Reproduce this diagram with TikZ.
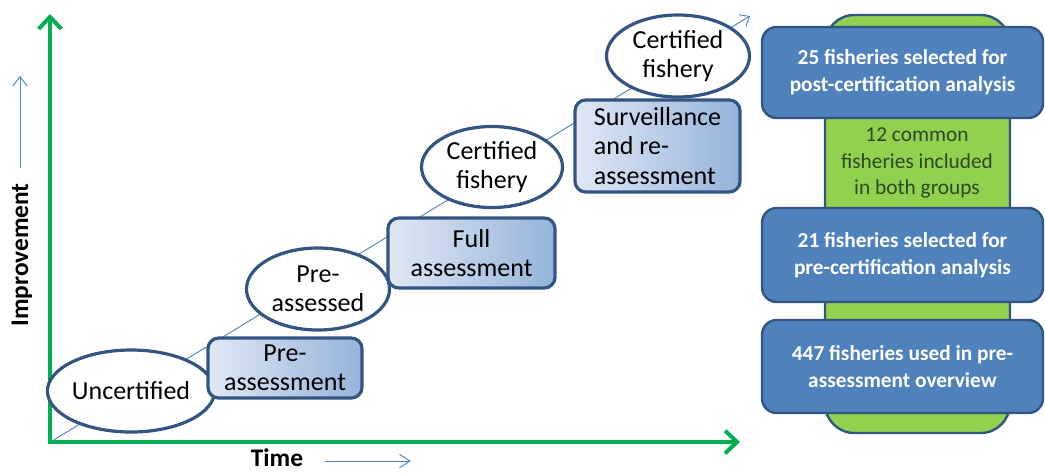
\documentclass[tikz,border=0pt]{standalone}
\usepackage{fontspec}
\setmainfont{Carlito}
\usetikzlibrary{shapes.geometric,arrows.meta}
\definecolor{axgreen}{RGB}{0,176,80}
\definecolor{lineblue}{RGB}{79,129,189}
\definecolor{edgeblue}{RGB}{50,85,130}
\definecolor{boxL}{RGB}{224,232,245}
\definecolor{boxR}{RGB}{149,179,218}
\definecolor{panelgreen}{RGB}{146,208,80}
\definecolor{fillblue}{RGB}{79,129,189}
\definecolor{textgreen}{RGB}{45,72,32}
\begin{document}
\begin{tikzpicture}[x=0.75pt,y=-0.75pt,
  stage/.style={ellipse, draw=edgeblue, line width=2.4pt, fill=white, inner sep=0pt,
    font=\fontsize{19.5}{22}\selectfont, align=center},
  stepbox/.style={rounded corners=8pt, draw=edgeblue, line width=2.4pt,
    left color=boxL, right color=boxR, inner sep=0pt,
    font=\fontsize{19.5}{22}\selectfont},
  infobox/.style={rounded corners=11pt, draw=edgeblue, line width=1.8pt, fill=fillblue,
    inner sep=0pt, text=white, font=\bfseries\fontsize{16}{20}\selectfont, align=center,
    minimum width={281*0.75pt}},
  panel/.style={rounded corners=22pt, draw=edgeblue, line width=1.8pt, fill=panelgreen},
  axis/.style={draw=axgreen, line width=3pt},
  thin/.style={draw=lineblue, line width=0.7pt},
  label/.style={font=\bfseries\fontsize{19}{22}\selectfont}
]
\useasboundingbox (0,0) rectangle (1045,472);

% axes
\coordinate (O) at (50,442);
\coordinate (Ytop) at (50,14);
\coordinate (Xend) at (740,442);
\draw[axis, {Straight Barb[length=9pt,width=17pt]}-{Straight Barb[length=9pt,width=17pt]}]
  (Ytop) -- (O) -- (Xend);

% diagonal progress line
\coordinate (D0) at (52,441);
\coordinate (D1) at (750,16);
\draw[thin, -{Straight Barb[length=6pt,width=10pt]}] (D0) -- (D1);

% axis labels
\node[label, rotate=90] (imp) at (22,255) {Improvement};
\coordinate (ia) at (20,168);
\coordinate (ib) at (20,76);
\draw[thin, -{Straight Barb[length=7pt,width=11pt]}] (ia) -- (ib);
\node[label, inner sep=1pt] (time) at (277,458) {Time};
\coordinate (ta) at (325,461);
\coordinate (tb) at (411,461);
\draw[thin, -{Straight Barb[length=8pt,width=10pt]}] (ta) -- (tb);

% stages
\node[stage, minimum width={143*0.75pt}, minimum height={82*0.75pt}] (unc) at (131,391) {Uncertified};
\node[stage, minimum width={143*0.75pt}, minimum height={82*0.75pt}] (pre) at (318,289) {Pre-\\assessed};
\node[stage, minimum width={141*0.75pt}, minimum height={81*0.75pt}] (cert1) at (492,167) {Certified\\fishery};
\node[stage, minimum width={143*0.75pt}, minimum height={82*0.75pt}] (cert2) at (678,56) {Certified\\fishery};

\node[stepbox, align=center, minimum width={154*0.75pt}, minimum height={60*0.75pt}] (pa) at (285,368) {Pre-\\assessment};
\node[stepbox, align=center, minimum width={167*0.75pt}, minimum height={70*0.75pt}] (fa) at (471.5,253) {Full\\assessment};
\node[stepbox, align=left, minimum width={165*0.75pt}, minimum height={92*0.75pt}] (sr) at (657.5,146) {Surveillance\\and re-\\assessment};

% right panel
\node[panel, minimum width={185*0.75pt}, minimum height={418*0.75pt}] (bg) at (917.5,224) {};
\node[font=\fontsize{16}{20}\selectfont, text=textgreen, align=center] (common) at (917,163)
  {12 common\\fisheries included\\in both groups};
\node[infobox, minimum height={91*0.75pt}] (b1) at (902.5,72.5)
  {25 fisheries selected for\\post-certification analysis};
\node[infobox, minimum height={94*0.75pt}] (b2) at (902.5,255)
  {21 fisheries selected for\\pre-certification analysis};
\node[infobox, minimum height={93*0.75pt}] (b3) at (902.5,366.5)
  {447 fisheries used in pre-\\assessment overview};
\end{tikzpicture}
\end{document}
